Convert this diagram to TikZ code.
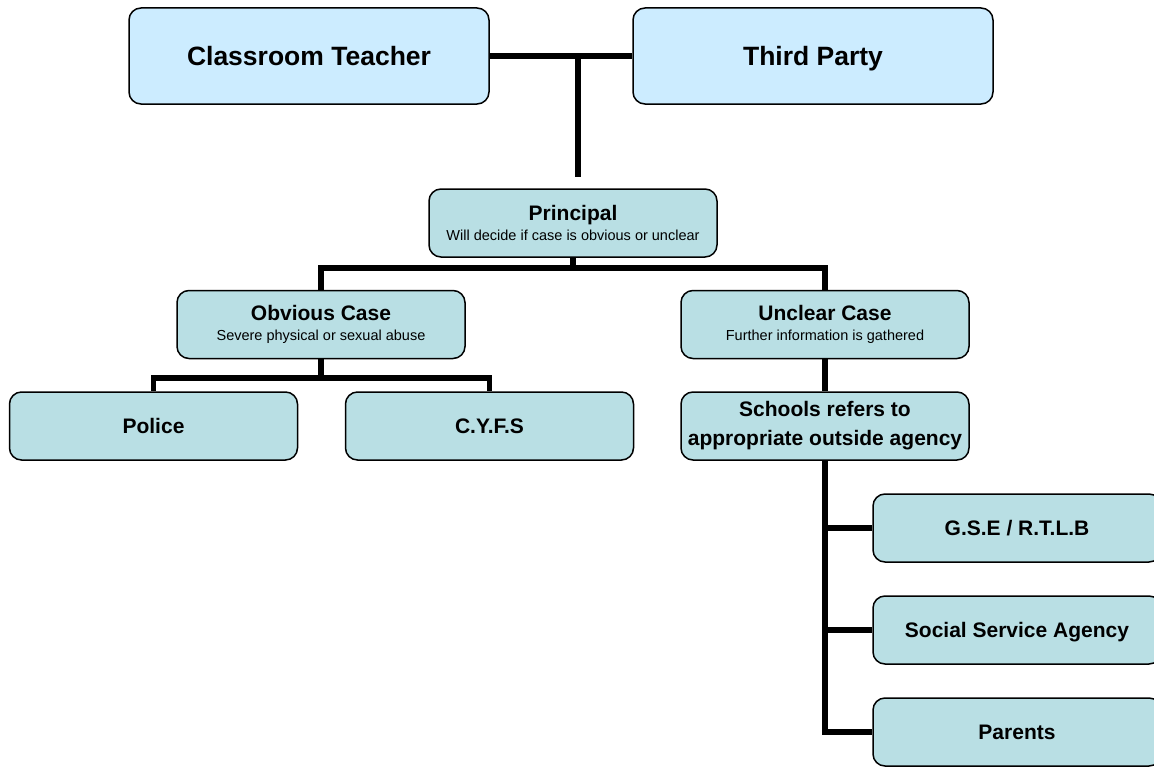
\documentclass[tikz,border=0pt]{standalone}
\usepackage{fontspec}
\setmainfont{Liberation Sans}
\definecolor{topblue}{RGB}{204,236,255}
\definecolor{boxteal}{RGB}{185,223,228}
\tikzset{
  topbox/.style={draw=black, line width=1.5pt, rounded corners=12pt, fill=topblue,
    minimum width=360pt, minimum height=96pt, inner sep=0pt,
    text height=19pt, text depth=0pt,
    font=\fontsize{26.5}{32}\selectfont\bfseries},
  tealbox/.style={draw=black, line width=1.5pt, rounded corners=12pt, fill=boxteal,
    minimum width=288pt, minimum height=68pt, inner sep=0pt, align=center,
    font=\fontsize{21}{25}\selectfont\bfseries},
  oneline/.style={text height=15pt, text depth=0pt},
  twoline/.style={font=\fontsize{21}{20.5}\selectfont\bfseries},
  conn/.style={line width=5.5pt, line join=miter, draw=black}
}
\newcommand{\subtxt}[1]{{\fontsize{14.5}{19}\selectfont\mdseries #1}}
\begin{document}
\begin{tikzpicture}[x=1pt,y=-1pt]
\useasboundingbox (0,0) rectangle (1154,768);
\coordinate (topj) at (578,56);
\coordinate (topend) at (578,177);
\coordinate (bus1) at (573,268);
\coordinate (bus2) at (321,378);

\node[topbox] (ct) at (309,56) {Classroom Teacher};
\node[topbox] (tp) at (813,56) {Third Party};

\node[tealbox, twoline] (pr) at (573,223) {Principal\\\subtxt{Will decide if case is obvious or unclear}};
\node[tealbox, twoline] (ob) at (321,324.5) {Obvious Case\\\subtxt{Severe physical or sexual abuse}};
\node[tealbox, twoline] (un) at (825,324.5) {Unclear Case\\\subtxt{Further information is gathered}};

\node[tealbox, oneline] (po) at (153.5,426) {Police};
\node[tealbox, oneline] (cy) at (489.5,426) {C.Y.F.S};
\node[tealbox, font=\fontsize{21}{29}\selectfont\bfseries] (sc) at (825,426) {Schools refers to\\appropriate outside agency};

\node[tealbox, oneline] (gse) at (1017,528) {G.S.E / R.T.L.B};
\node[tealbox, oneline] (ssa) at (1017,630) {Social Service Agency};
\node[tealbox, oneline] (pa) at (1017,732) {Parents};

\draw[conn] (ct.east) -- (tp.west);
\draw[conn] (topj) -- (topend);
\draw[conn] (pr.south) -- (bus1);
\draw[conn] (ob.north) |- (bus1) -| (un.north);
\draw[conn] (ob.south) -- (bus2);
\draw[conn] (po.north) |- (bus2) -| (cy.north);
\draw[conn] (un.south) -- (sc.north);
\draw[conn] (sc.south) |- (pa.west);
\draw[conn] (sc.south |- gse.west) -- (gse.west);
\draw[conn] (sc.south |- ssa.west) -- (ssa.west);
\end{tikzpicture}
\end{document}
